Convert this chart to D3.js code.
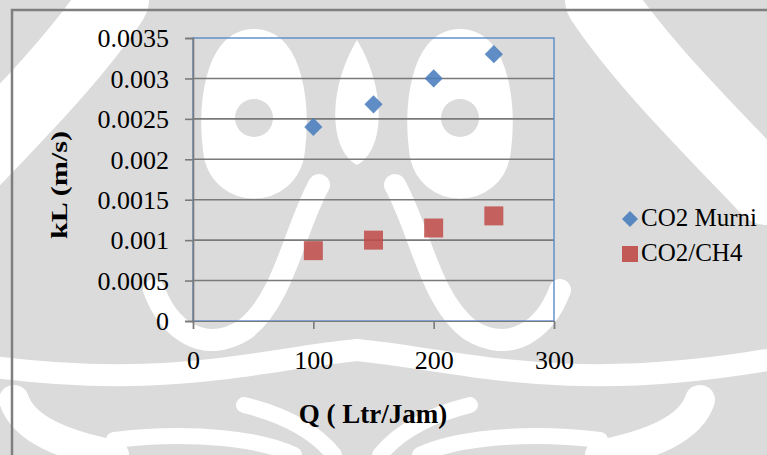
<!DOCTYPE html>
<html>
<head>
<meta charset="utf-8">
<script src="https://cdn.jsdelivr.net/npm/d3@7"></script>
<style>
  body { margin: 0; background: #fff; }
  svg { display: block; }
  text { font-family: "Liberation Serif", "Times New Roman", serif; fill: #000; }
</style>
</head>
<body>
<svg id="chart" width="767" height="455"></svg>
<script>
// Gas flow rate (Ltr/Jam) and mass-transfer coefficient kL (m/s)
const flowRates = [100, 150, 200, 250];
const kLPureCO2 = [0.0024, 0.00268, 0.003, 0.0033];
const kLMixCO2CH4 = [0.00087, 0.001, 0.00115, 0.0013];
const seriesNames = ["CO2 Murni", "CO2/CH4"];
const xTickValues = [0, 100, 200, 300];
const yTickValues = [0, 0.0005, 0.001, 0.0015, 0.002, 0.0025, 0.003, 0.0035];
const yTickLabels = ["0", "0.0005", "0.001", "0.0015", "0.002", "0.0025", "0.003", "0.0035"];

const svg = d3.select("#chart");
const W = 767, H = 455;
const plot = { left: 193, right: 554, top: 38, bottom: 321 };

// ---- watermark motif behind the chart ----
const bg = svg.append("g");
bg.append("rect").attr("width", W).attr("height", H).attr("fill", "#dbdbdb");
const axisX = 357;
const mirror = d => `translate(${2 * axisX},0) scale(-1,1)`;
const whiteShapes = [
  // diagonal band from the top corner
  { d: "M600,0 C640,60 700,120 767,190", w: 70 },
  // loop around the small disc
  { d: "M460,40 C500,40 505,110 500,150 C495,200 425,200 420,150 C415,110 420,40 460,40 Z", w: 22, fill: true },
  // swoop under the loop
  { d: "M395,185 C420,230 430,300 470,330 C510,355 545,330 560,290", w: 22 },
  // lower sweep
  { d: "M357,350 C460,360 560,395 767,360", w: 22 },
  // bottom fan
  { d: "M380,455 C400,430 430,415 470,405", w: 16 },
  { d: "M420,455 C450,440 520,430 600,440", w: 16 },
  { d: "M700,400 C690,430 650,445 600,455", w: 30 }
];
[false, true].forEach(flip => {
  const g = bg.append("g");
  if (flip) g.attr("transform", mirror());
  whiteShapes.forEach(s => {
    g.append("path").attr("d", s.d)
      .attr("fill", s.fill ? "#fff" : "none")
      .attr("stroke", "#fff").attr("stroke-width", s.w)
      .attr("stroke-linecap", "round").attr("stroke-linejoin", "round");
  });
  g.append("circle").attr("cx", 460).attr("cy", 118).attr("r", 19).attr("fill", "#dbdbdb");
});
// central teardrop
bg.append("path")
  .attr("d", `M${axisX},40 C${axisX - 30},90 ${axisX - 28},150 ${axisX},165 C${axisX + 28},150 ${axisX + 30},90 ${axisX},40 Z`)
  .attr("fill", "#fff");

// ---- chart frame ----
svg.append("rect")
  .attr("x", 12).attr("y", 10).attr("width", W).attr("height", H)
  .attr("fill", "none").attr("stroke", "#7f7f7f").attr("stroke-width", 2.5);

// ---- scales ----
const x = d3.scaleLinear().domain([0, 300]).range([plot.left, plot.right]);
const y = d3.scaleLinear().domain([0, 0.0035]).range([plot.bottom, plot.top]);

// gridlines
svg.append("g").selectAll("line")
  .data(yTickValues.slice(1, -1))
  .join("line")
  .attr("x1", plot.left).attr("x2", plot.right)
  .attr("y1", d => y(d)).attr("y2", d => y(d))
  .attr("stroke", "#7a7a7a").attr("stroke-width", 1.6);

// plot area border
svg.append("rect")
  .attr("x", plot.left).attr("y", plot.top)
  .attr("width", plot.right - plot.left).attr("height", plot.bottom - plot.top)
  .attr("fill", "none").attr("stroke", "#5b8ac6").attr("stroke-width", 1.4);

// y axis
const yAxis = svg.append("g")
  .attr("transform", `translate(${plot.left},0)`)
  .call(d3.axisLeft(y).tickValues(yTickValues)
    .tickFormat((d, i) => yTickLabels[i]).tickSize(8).tickPadding(16));
yAxis.select(".domain").attr("stroke", "#7a7a7a").attr("stroke-width", 1.6);
yAxis.selectAll(".tick line").attr("stroke", "#7a7a7a").attr("stroke-width", 1.6);
yAxis.selectAll(".tick text")
  .attr("font-family", "Liberation Serif").attr("font-size", 26).attr("fill", "#000")
  .attr("dy", "0.34em");

// x axis
const xAxis = svg.append("g")
  .attr("transform", `translate(0,${plot.bottom})`)
  .call(d3.axisBottom(x).tickValues(xTickValues).tickSize(8).tickPadding(22));
xAxis.select(".domain").attr("stroke", "#7a7a7a").attr("stroke-width", 1.2);
xAxis.selectAll(".tick line").attr("stroke", "#7a7a7a").attr("stroke-width", 1.6);
xAxis.selectAll(".tick text")
  .attr("font-family", "Liberation Serif").attr("font-size", 26).attr("fill", "#000");

// axis titles
svg.append("text")
  .attr("x", 373).attr("y", 423)
  .attr("text-anchor", "middle").attr("font-weight", "bold").attr("font-size", 27)
  .text("Q ( Ltr/Jam)");
svg.append("text")
  .attr("transform", "translate(67,185) rotate(-90)")
  .attr("text-anchor", "middle").attr("font-weight", "bold").attr("font-size", 24)
  .attr("textLength", 108).attr("lengthAdjust", "spacingAndGlyphs")
  .text("kL (m/s)");

// ---- markers ----
const diamond = d3.symbol().type(d3.symbolSquare).size(165)();
const square = d3.symbol().type(d3.symbolSquare).size(360)();
const blue = "#4a7dbd", red = "#bf4a47";

svg.append("g").selectAll("path")
  .data(flowRates.map((q, i) => [q, kLPureCO2[i]]))
  .join("path")
  .attr("d", diamond)
  .attr("transform", d => `translate(${x(d[0])},${y(d[1])}) rotate(45)`)
  .attr("fill", blue).attr("fill-opacity", 0.88);

svg.append("g").selectAll("path")
  .data(flowRates.map((q, i) => [q, kLMixCO2CH4[i]]))
  .join("path")
  .attr("d", square)
  .attr("transform", d => `translate(${x(d[0])},${y(d[1])})`)
  .attr("fill", red).attr("fill-opacity", 0.85);

// ---- legend ----
const legend = svg.append("g");
const legendRows = [
  { name: seriesNames[0], shape: d3.symbol().type(d3.symbolSquare).size(128)(), rot: 45, color: blue, cy: 219 },
  { name: seriesNames[1], shape: d3.symbol().type(d3.symbolSquare).size(256)(), rot: 0, color: red, cy: 254 }
];
legendRows.forEach(r => {
  legend.append("path").attr("d", r.shape)
    .attr("transform", `translate(630,${r.cy}) rotate(${r.rot})`)
    .attr("fill", r.color).attr("fill-opacity", 0.9);
  legend.append("text").attr("x", 641).attr("y", r.cy + 7)
    .attr("font-size", 25).text(r.name);
});
</script>
</body>
</html>
